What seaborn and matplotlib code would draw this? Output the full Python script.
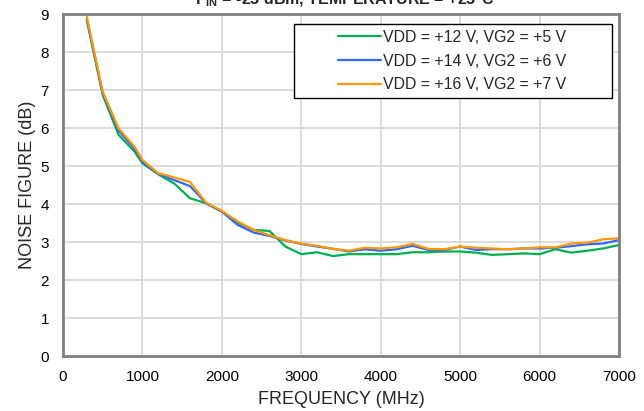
import numpy as np
import pandas as pd
import matplotlib
matplotlib.use("Agg")
import matplotlib.pyplot as plt
import seaborn as sns
from matplotlib.patches import Rectangle

freq_mhz = [300, 500, 700, 900, 1000, 1200, 1400, 1600, 1800, 2000, 2200, 2400, 2600,
            2800, 3000, 3200, 3400, 3600, 3800, 4000, 4200, 4400, 4600, 4800, 5000,
            5200, 5400, 5600, 5800, 6000, 6200, 6400, 6600, 6800, 7000]

nf_12v = [8.84, 6.87, 5.82, 5.38, 5.07, 4.78, 4.54, 4.15, 4.02, 3.80, 3.51, 3.32, 3.29,
          2.88, 2.68, 2.73, 2.63, 2.68, 2.68, 2.68, 2.68, 2.73, 2.73, 2.75, 2.75,
          2.72, 2.66, 2.68, 2.70, 2.68, 2.81, 2.72, 2.77, 2.83, 2.92]
nf_14v = [8.86, 6.91, 5.93, 5.46, 5.11, 4.79, 4.63, 4.47, 4.02, 3.80, 3.45, 3.25, 3.16,
          3.04, 2.95, 2.88, 2.82, 2.75, 2.81, 2.77, 2.81, 2.90, 2.79, 2.79, 2.88,
          2.79, 2.81, 2.81, 2.83, 2.83, 2.85, 2.89, 2.94, 2.96, 3.05]
nf_16v = [8.93, 6.96, 5.99, 5.51, 5.16, 4.81, 4.70, 4.58, 4.04, 3.82, 3.54, 3.32, 3.18,
          3.05, 2.96, 2.90, 2.82, 2.77, 2.85, 2.83, 2.86, 2.95, 2.82, 2.81, 2.88,
          2.85, 2.83, 2.81, 2.83, 2.86, 2.86, 2.96, 2.98, 3.07, 3.10]

series_labels = ["VDD = +12 V, VG2 = +5 V", "VDD = +14 V, VG2 = +6 V", "VDD = +16 V, VG2 = +7 V"]
series_colors = ["#00B050", "#3366FF", "#FF9900"]

x_ticks = [0, 1000, 2000, 3000, 4000, 5000, 6000, 7000]
y_ticks = [0, 1, 2, 3, 4, 5, 6, 7, 8, 9]

df = pd.concat([
    pd.DataFrame({"freq": freq_mhz, "nf": vals, "series": lab})
    for vals, lab in zip([nf_12v, nf_14v, nf_16v], series_labels)
], ignore_index=True)

sns.set_style("white")
plt.rcParams["font.family"] = ["Liberation Sans", "DejaVu Sans"]
plt.rcParams["mathtext.fontset"] = "custom"
plt.rcParams["mathtext.rm"] = "Liberation Sans"
plt.rcParams["mathtext.bf"] = "Liberation Sans:bold"

fig = plt.figure(figsize=(6.44, 4.11), dpi=100)
ax = fig.add_axes([63 / 644, 1 - 356 / 411, 556 / 644, 342 / 411])

sns.lineplot(data=df, x="freq", y="nf", hue="series", palette=series_colors,
             hue_order=series_labels, linewidth=1.6, ax=ax, legend=True, sort=False)

ax.set_xlim(0, 7000)
ax.set_ylim(0, 9)
ax.set_xticks(x_ticks)
ax.set_yticks(y_ticks)
ax.grid(True, color="#d9d9d9", linewidth=1.3)
ax.set_axisbelow(True)
for s in ax.spines.values():
    s.set_visible(True)
    s.set_color("#808080")
    s.set_linewidth(2.0)
ax.tick_params(length=0, labelsize=11, pad=10, colors="black")
ax.set_xlabel("FREQUENCY (MHz)", fontsize=13, labelpad=5)
ax.set_ylabel("NOISE FIGURE (dB)", fontsize=13, labelpad=3)

# legend frame
ax.add_patch(Rectangle((0.4155, 0.754), 0.5715, 0.217, transform=ax.transAxes,
                       facecolor="white", edgecolor="black", linewidth=1.0, zorder=4))
handles, labels = ax.get_legend_handles_labels()
leg = ax.legend(handles, labels, loc="center", bbox_to_anchor=(0.70, 0.8625),
                frameon=False, fontsize=11.4, handlelength=2.7, handletextpad=0.15,
                labelspacing=0.56, borderpad=0.2)
leg.set_zorder(5)

fig.text(0.535, 1 - 4.5 / 411, r"$\mathbf{P_{IN}}$ = -25 dBm, TEMPERATURE = +25°C",
         ha="center", va="baseline", fontsize=11.5, fontweight="bold")

fig.savefig("out.png", dpi=100)
